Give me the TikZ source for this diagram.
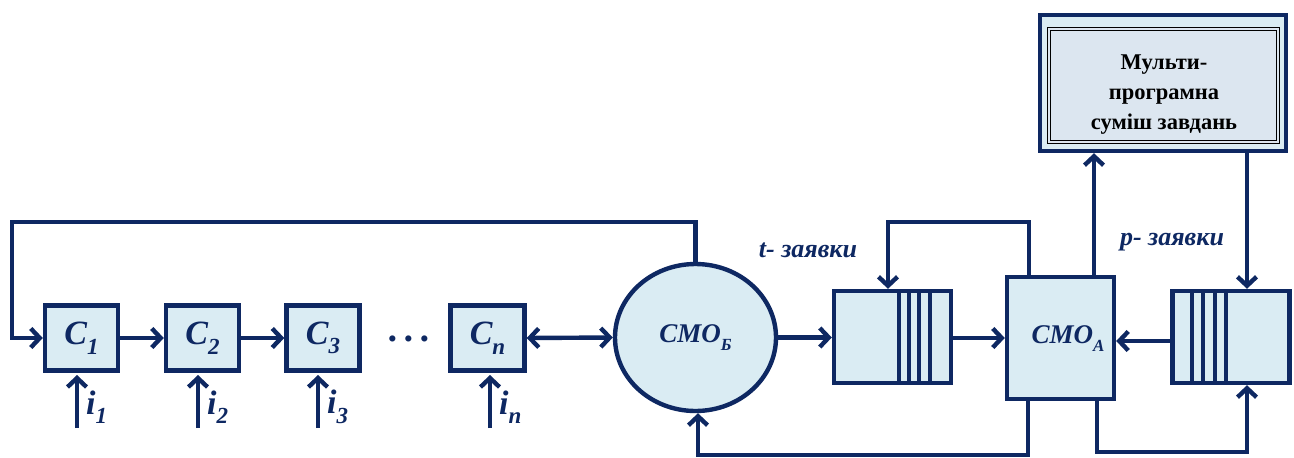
\documentclass[tikz,border=0pt]{standalone}
\usepackage{fontspec}
\setmainfont{Liberation Serif}
\usetikzlibrary{arrows.meta,shapes.geometric,calc}
\definecolor{navy}{RGB}{14,40,98}
\definecolor{boxfill}{RGB}{218,236,243}
\definecolor{multfill}{RGB}{220,230,240}
\newcommand{\mysub}[1]{\raisebox{-0.28em}{\fontsize{23}{23}\selectfont #1}}
\newcommand{\mysubs}[1]{\raisebox{-0.3em}{\fontsize{17}{17}\selectfont #1}}
\begin{document}
\begin{tikzpicture}[x=1pt,y=-1pt,
  ln/.style={draw=navy,line width=4.4pt,line join=miter},
  arr/.style={ln,-{Straight Barb[length=9pt,width=19pt]}},
  darr/.style={ln,{Straight Barb[length=9pt,width=19pt]}-{Straight Barb[length=9pt,width=19pt]}},
  cbox/.style={ln,fill=boxfill,rectangle,minimum width=73pt,minimum height=65pt,inner sep=0pt,text=navy,font=\fontsize{34}{34}\selectfont\bfseries\itshape},
  qbox/.style={ln,fill=boxfill,rectangle,minimum width=117pt,minimum height=92pt,inner sep=0pt},
  lab/.style={text=navy,font=\fontsize{34}{34}\selectfont\bfseries\itshape,inner sep=0pt},
  tlab/.style={text=navy,font=\fontsize{26}{26}\selectfont\bfseries\itshape,inner sep=0pt}
]
\useasboundingbox (0,0) rectangle (1294,458);

% C boxes
\node[cbox] (c1) at (81.5,338) {C\mysub{1}};
\node[cbox] (c2) at (202.5,338) {C\mysub{2}};
\node[cbox] (c3) at (323,338) {C\mysub{3}};
\node[lab,font=\fontsize{38}{38}\selectfont\bfseries] (dots) at (409,344) {·\kern3pt·\kern3pt·};
\node[cbox,minimum width=74pt] (cn) at (487.5,338) {C\mysub{n}};

% SMO_B
\node[ln,fill=boxfill,ellipse,minimum width=161pt,minimum height=147pt,inner sep=0pt,text=navy,font=\fontsize{27}{27}\selectfont\bfseries\itshape] (smob) at (695.5,337.5) {CMO\mysubs{Б}};

% queue 1
\node[qbox] (q1) at (892.5,337) {};
\foreach \x in {899,909,919,930} \draw[ln,line width=4pt] (\x,291) -- (\x,383);

% SMO_A
\node[ln,fill=boxfill,rectangle,minimum width=107pt,minimum height=122pt,inner sep=0pt] (smoa) at (1060.5,338) {};
\node[text=navy,font=\fontsize{27}{27}\selectfont\bfseries\itshape,inner sep=0pt] (smoat) at (1068,339) {CMO\mysubs{A}};

% queue 2
\node[qbox] (q2) at (1231,337) {};
\foreach \x in {1192,1203,1215,1226} \draw[ln,line width=4pt] (\x,291) -- (\x,383);

% multiprogram mix
\node[ln,fill=boxfill,rectangle,minimum width=246pt,minimum height=136pt,inner sep=0pt] (mult) at (1163,83) {};
\node[draw=black,line width=0.9pt,double=multfill,double distance=1.6pt,fill=multfill,rectangle,minimum width=229pt,minimum height=113pt,inner sep=0pt] (inner) at (1163.5,85.5) {};
\node[align=center,inner sep=0pt,font=\fontsize{22.5}{30}\selectfont\bfseries] (multt) at (1164,95) {Мульти-\\програмна\\суміш завдань};

% labels
\node[tlab] (tl) at (808,250) {t- заявки};
\node[tlab] (pl) at (1172,242) {p- заявки};

% inputs
\foreach \n/\x/\t in {c1/77/1,c2/198/2,c3/318/3,cn/490/n}{
  \coordinate (in\n) at (\x,428);
  \draw[arr] (in\n) -- (\x,375);
  \node[lab,anchor=west] (lab\n) at (\x+9,407) {i\mysub{\t}};
}

% connectors
\coordinate (tl1) at (12,222);
\draw[arr] (smob.north) -- (smob.north |- tl1) -- (tl1) |- (c1.west);
\draw[arr] (c1) -- (c2);
\draw[arr] (c2) -- (c3);
\draw[darr] (cn.east) -- (smob.west);
\draw[arr] (smob.east) -- (q1.west |- smob.east);
\draw[arr] (q1.east |- smoa.west) -- (smoa.west);
\coordinate (qa) at (1029,222);
\coordinate (qb) at (888,222);
\draw[arr] (smoa.north -| qa) -- (qa) -- (qb) -- (qb |- q1.north);
\draw[arr] (smoa.north -| 1094,0) -- (mult.south -| 1094,0);
\draw[arr] (mult.south -| 1247,0) -- (q2.north -| 1247,0);
\draw[arr] (q2.west |- 0,341) -- (smoa.east |- 0,341);
\coordinate (ba) at (1097,452);
\coordinate (bb) at (1247,452);
\draw[arr] (smoa.south -| ba) -- (ba) -- (bb) -- (bb |- q2.south);
\coordinate (ca) at (1028,455);
\coordinate (cb) at (698,455);
\draw[arr] (smoa.south -| ca) -- (ca) -- (cb) -- (cb |- smob.south);
\end{tikzpicture}
\end{document}
